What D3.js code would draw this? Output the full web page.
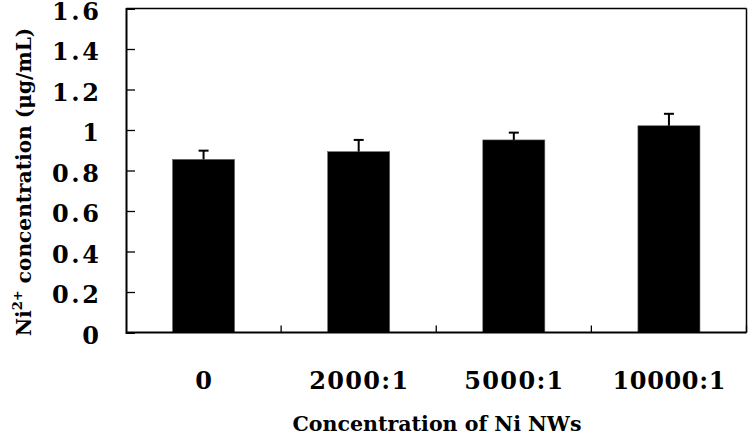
<!DOCTYPE html>
<html><head><meta charset="utf-8">
<script src="https://cdn.jsdelivr.net/npm/d3@7"></script>
<style>
html,body{margin:0;padding:0;background:#fff;}
svg text{font-family:"DejaVu Serif",serif;font-weight:bold;fill:#000;}
</style></head>
<body>
<svg id="chart" width="748" height="435"></svg>
<script>
const categories = ["0", "2000:1", "5000:1", "10000:1"];
const values = [0.855, 0.893, 0.951, 1.021];
const errors = [0.043, 0.058, 0.036, 0.059];
const yTicks = [0, 0.2, 0.4, 0.6, 0.8, 1, 1.2, 1.4, 1.6];
const yTickLabels = ["0", "0.2", "0.4", "0.6", "0.8", "1", "1.2", "1.4", "1.6"];
const xTitle = "Concentration of Ni NWs";

const svg = d3.select("#chart");
const L = 126, R = 746.5, T = 8.5, B = 332.5;

const x = d3.scaleBand().domain(categories).range([L, R]).paddingInner(0.6).paddingOuter(0.3);
const y = d3.scaleLinear().domain([0, 1.6]).range([B, T]);

// frame
svg.append("line").attr("x1", L).attr("x2", R).attr("y1", T).attr("y2", T).attr("stroke", "#000").attr("stroke-width", 1.5);
svg.append("line").attr("x1", R).attr("x2", R).attr("y1", T).attr("y2", B).attr("stroke", "#000").attr("stroke-width", 1.5);

// bars
svg.selectAll("rect.bar").data(categories).enter().append("rect")
  .attr("x", d => x(d)).attr("width", x.bandwidth())
  .attr("y", (d, i) => y(values[i])).attr("height", (d, i) => y(0) - y(values[i]))
  .attr("fill", "#000").attr("stroke", "#666").attr("stroke-width", 0.6);

// error bars
const eb = svg.selectAll("g.eb").data(categories).enter().append("g");
eb.append("line").attr("x1", d => x(d) + x.bandwidth() / 2).attr("x2", d => x(d) + x.bandwidth() / 2)
  .attr("y1", (d, i) => y(values[i])).attr("y2", (d, i) => y(values[i] + errors[i]))
  .attr("stroke", "#000").attr("stroke-width", 2);
eb.append("line").attr("x1", d => x(d) + x.bandwidth() / 2 - 5).attr("x2", d => x(d) + x.bandwidth() / 2 + 5)
  .attr("y1", (d, i) => y(values[i] + errors[i])).attr("y2", (d, i) => y(values[i] + errors[i]))
  .attr("stroke", "#000").attr("stroke-width", 2);

// y axis
const yAxis = svg.append("g").attr("transform", `translate(${L},0)`)
  .call(d3.axisRight(y).tickValues(yTicks).tickSize(9).tickFormat(""));
yAxis.select(".domain").attr("stroke-width", 2);
yAxis.selectAll(".tick line").attr("stroke-width", 1.3);

svg.selectAll("text.ylab").data(yTicks).enter().append("text")
  .attr("class", "ylab")
  .attr("x", 99).attr("y", d => y(d) + 2.5).attr("dy", "0.36em")
  .attr("text-anchor", "end").attr("font-size", 24)
  .each(function (d, i) {
    const s = d3.select(this).text(yTickLabels[i]);
    if (yTickLabels[i].length > 1) s.attr("textLength", 47).attr("lengthAdjust", "spacing");
  });

// x axis
const xAxisG = svg.append("g");
xAxisG.append("line").attr("x1", L).attr("x2", R).attr("y1", B).attr("y2", B).attr("stroke", "#000").attr("stroke-width", 2);
const boundaries = categories.map((d, i) => L + x.step() * (i + 1));
xAxisG.selectAll("line.xt").data(boundaries).enter().append("line")
  .attr("x1", d => d).attr("x2", d => d).attr("y1", B).attr("y2", B - 7)
  .attr("stroke", "#000").attr("stroke-width", 1.3);

const xLabelWidths = [0, 99, 99, 113];
svg.selectAll("text.xlab").data(categories).enter().append("text")
  .attr("x", d => x(d) + x.bandwidth() / 2).attr("y", 389)
  .attr("text-anchor", "middle").attr("font-size", 24)
  .each(function (d, i) {
    const s = d3.select(this).text(d);
    if (d.length > 1) s.attr("textLength", xLabelWidths[i]).attr("lengthAdjust", "spacing");
  });

svg.append("text").attr("x", 437).attr("y", 431).attr("text-anchor", "middle")
  .attr("font-size", 20).attr("textLength", 289).attr("lengthAdjust", "spacingAndGlyphs").text(xTitle);

// y title with superscript, scaled to the reference length
const yt = svg.append("text").attr("transform", "translate(31,182) rotate(-90)")
  .attr("text-anchor", "middle").attr("font-size", 20);
yt.append("tspan").text("Ni");
yt.append("tspan").attr("dy", -9).attr("font-size", 13).text("2+");
yt.append("tspan").attr("dy", 9).text(" concentration (μg/mL)");
const w = yt.node().getComputedTextLength();
const k = 309 / w;
yt.attr("font-size", 20 * k);
yt.selectAll("tspan").filter((d, i) => i === 1).attr("font-size", 13 * k);
</script>
</body></html>
